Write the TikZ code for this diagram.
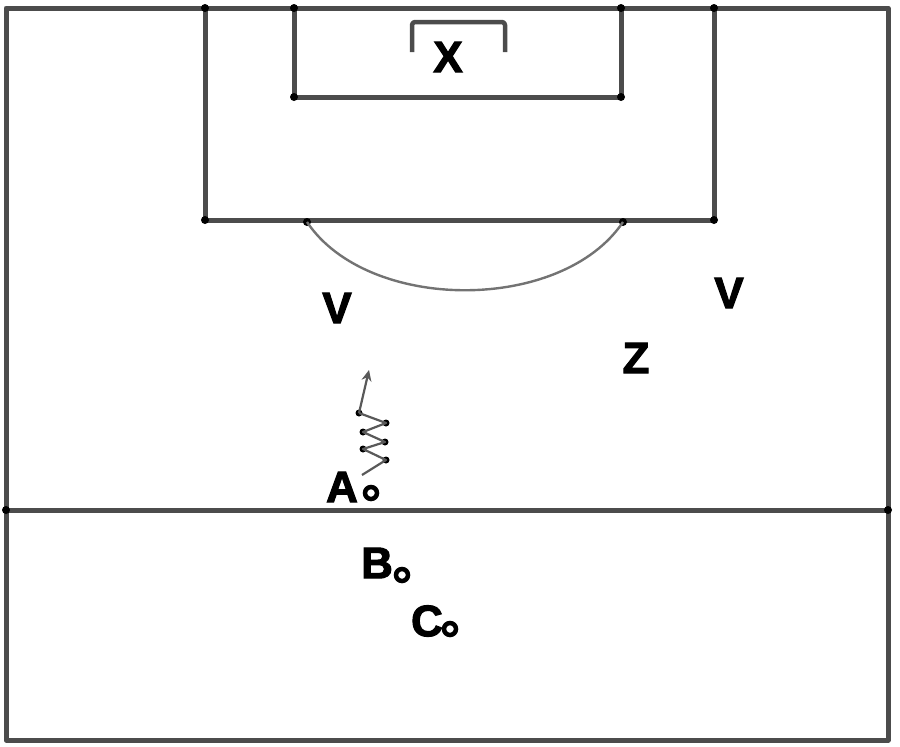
\documentclass[tikz,border=0pt]{standalone}
\usepackage{fontspec}
\setmainfont{Liberation Sans}
\newfontfamily\lblfont[BoldFont={Liberation Sans Bold},BoldFeatures={FakeBold=2.5}]{Liberation Sans}
\usetikzlibrary{arrows.meta}
\begin{document}
\begin{tikzpicture}[x=1pt,y=-1pt,
  fieldline/.style={draw=black!70,line width=5pt,line join=round},
  corner/.style={circle,fill=black,inner sep=0pt,minimum size=8pt},
  lbl/.style={font=\lblfont\fontsize{44}{44}\selectfont\bfseries,inner sep=0pt},
  player/.style={circle,draw=black,fill=white,line width=4.5pt,inner sep=0pt,minimum size=12pt},
  zig/.style={draw=black!65,line width=2.2pt,line join=round},
  zdot/.style={circle,fill=black,inner sep=0pt,minimum size=7pt}]
\useasboundingbox (0,0) rectangle (900,747);
% outer field
\draw[fieldline] (6,8) rectangle (888,740);
\draw[fieldline] (6,510) -- (888,510);
% penalty box
\draw[fieldline] (205,8) -- (205,220) -- (714,220) -- (714,8);
% goal area
\draw[fieldline] (294,8) -- (294,97) -- (621,97) -- (621,8);
% goal
\draw[fieldline,line width=4.5pt,rounded corners=3pt] (412,52) -- (412,22) -- (505,22) -- (505,52);
% corner dots
\foreach \n/\p in {c1/{(205,8)},c2/{(294,8)},c3/{(621,8)},c4/{(714,8)},c5/{(294,97)},c6/{(621,97)},c7/{(205,220)},c8/{(714,220)},c9/{(6,510)},c10/{(888,510)}}
  \node[corner] (\n) at \p {};
\node[corner] (arcL) at (307,222) {};
\node[corner] (arcR) at (623,222) {};
% penalty arc
\draw[draw=black!55,line width=2.4pt] (arcL.center) .. controls (368,313) and (562,313) .. (arcR.center);
% labels
\node[lbl] (X) at (448,57) {X};
\node[lbl] (V1) at (337,308) {V};
\node[lbl] (V2) at (729,293) {V};
\node[lbl] (Z) at (636,358) {Z};
\node[lbl] (A) at (342,487) {A};
\node[lbl] (B) at (377,563) {B};
\node[lbl] (C) at (427,621) {C};
\node[player] (pA) at (371,493) {};
\node[player] (pB) at (402,575) {};
\node[player] (pC) at (450,629) {};
% zigzag dribble
\coordinate (z0) at (362,475);
\node[zdot] (z1) at (386,460) {};
\node[zdot] (z2) at (363,449) {};
\node[zdot] (z3) at (385,442) {};
\node[zdot] (z4) at (363,432) {};
\node[zdot] (z5) at (386,423) {};
\node[zdot] (z6) at (359,413) {};
\coordinate (zt) at (369,370);
\draw[zig] (z0) -- (z1.center) -- (z2.center) -- (z3.center) -- (z4.center) -- (z5.center) -- (z6.center);
\draw[zig,-{Stealth[length=11pt,width=10pt]}] (z6.center) -- (zt);
\end{tikzpicture}
\end{document}
